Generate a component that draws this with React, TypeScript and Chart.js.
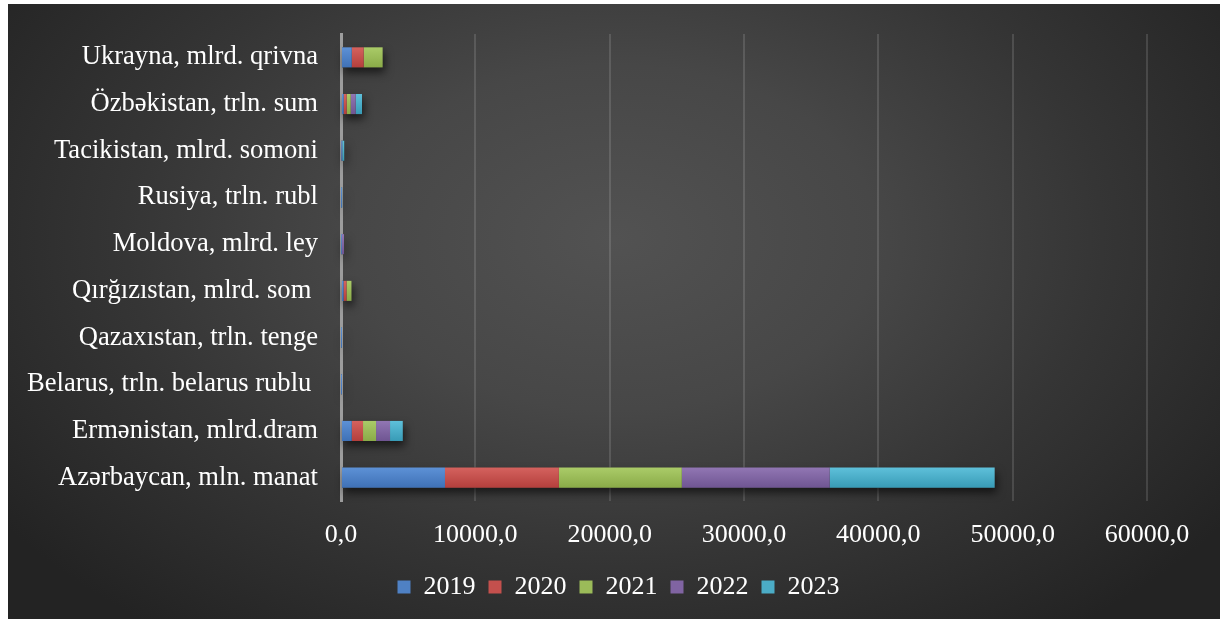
import React, { useEffect, useRef } from "react";
import { Chart, registerables } from "chart.js";

Chart.register(...registerables);

if (typeof document !== "undefined") {
  document.documentElement.style.overflow = "hidden";
}

const categories = [
  "Azərbaycan, mln. manat",
  "Ermənistan, mlrd.dram",
  "Belarus, trln. belarus rublu ",
  "Qazaxıstan, trln. tenge",
  "Qırğızıstan, mlrd. som ",
  "Moldova, mlrd. ley",
  "Rusiya, trln. rubl",
  "Tacikistan, mlrd. somoni",
  "Özbəkistan, trln. sum",
  "Ukrayna, mlrd. qrivna",
];

const years = ["2019", "2020", "2021", "2022", "2023"];

const v2019 = [7740, 800, 0.04, 3, 190, 10, 5, 15, 200, 800];
const v2020 = [8480, 840, 0.04, 3, 220, 20, 5, 30, 223, 890];
const v2021 = [9150, 970, 0.05, 4, 370, 15, 6, 20, 298, 1410];
const v2022 = [11010, 1040, 0.06, 5, 0, 180, 7, 25, 372, 0];
const v2023 = [12280, 950, 0.07, 50, 0, 0, 60, 150, 469, 0];

const seriesValues = [v2019, v2020, v2021, v2022, v2023];

const xTickLabels = ["0,0", "10000,0", "20000,0", "30000,0", "40000,0", "50000,0", "60000,0"];

const solidColors = ["#4f81c4", "#c4504d", "#9bbb59", "#8064a2", "#4bacc6"];
const topColors = ["#5d91d6", "#d4625e", "#aacb68", "#9176b3", "#5ec0da"];
const bottomColors = ["#3f71b6", "#b43f3c", "#8aab48", "#6f5592", "#389bb6"];

const FONT = "'Liberation Serif', 'Times New Roman', serif";

const shadowPlugin = {
  id: "stackShadow",
  beforeDatasetsDraw(chart: any) {
    const ctx = chart.ctx;
    const metas = chart.getSortedVisibleDatasetMetas();
    ctx.save();
    ctx.shadowColor = "rgba(0,0,0,0.6)";
    ctx.shadowBlur = 9;
    ctx.shadowOffsetX = 2;
    ctx.shadowOffsetY = 5;
    ctx.fillStyle = "#333";
    for (let i = 0; i < categories.length; i++) {
      let left = Infinity;
      let right = -Infinity;
      let y = 0;
      let h = 0;
      for (const m of metas) {
        const el: any = m.data[i];
        if (!el) continue;
        const a = Math.min(el.x, el.base);
        const b = Math.max(el.x, el.base);
        if (b - a < 0.01) continue;
        left = Math.min(left, a);
        right = Math.max(right, b);
        y = el.y;
        h = el.height;
      }
      if (right - left > 0.5) {
        ctx.fillRect(left, y - h / 2, right - left, h);
      }
    }
    ctx.restore();
  },
};

const legendShiftPlugin = {
  id: "legendShift",
  afterLayout(chart: any) {
    if (chart.legend) {
      chart.legend.left += 41;
      chart.legend.right += 41;
    }
  },
};

export default function App() {
  const canvasRef = useRef<HTMLCanvasElement | null>(null);

  useEffect(() => {
    if (!canvasRef.current) return;
    const datasets = years.map((yr, k) => ({
      label: yr,
      data: seriesValues[k],
      borderWidth: 0,
      backgroundColor: (c: any) => {
        const chart = c.chart;
        const ys = chart.scales && chart.scales.y;
        if (c.type !== "data" || !ys || !chart.ctx) return solidColors[k];
        const py = ys.getPixelForValue(c.dataIndex);
        const g = chart.ctx.createLinearGradient(0, py - 10, 0, py + 10);
        g.addColorStop(0, topColors[k]);
        g.addColorStop(1, bottomColors[k]);
        return g;
      },
      categoryPercentage: 1,
      barPercentage: 0.43,
    }));

    const chart = new Chart(canvasRef.current, {
      type: "bar",
      data: { labels: categories, datasets },
      plugins: [shadowPlugin, legendShiftPlugin],
      options: {
        responsive: false,
        animation: false,
        events: [],
        indexAxis: "y",
        layout: { padding: { left: 0, right: 73, top: 30, bottom: 9 } },
        scales: {
          x: {
            stacked: true,
            min: 0,
            max: 60000,
            ticks: {
              stepSize: 10000,
              padding: 19,
              color: "#ffffff",
              font: { family: FONT, size: 26 },
              callback: (_v: any, i: number) => xTickLabels[i],
            },
            grid: {
              color: "rgba(255,255,255,0.13)",
              lineWidth: 2,
              drawTicks: false,
            },
            border: { display: false },
            afterFit: (s: any) => {
              s.height = 60;
            },
          },
          y: {
            stacked: true,
            reverse: true,
            ticks: {
              padding: 23,
              color: "#ffffff",
              font: { family: FONT, size: 26.6 },
              autoSkip: false,
            },
            grid: { display: false, drawTicks: false },
            border: { display: true, color: "#9d9d9d", width: 3 },
            afterFit: (s: any) => {
              s.width = 333;
              s.paddingTop = 0;
              s.paddingBottom = 0;
            },
          },
        },
        plugins: {
          legend: {
            position: "bottom",
            labels: {
              boxWidth: 13,
              boxHeight: 13,
              padding: 13,
              color: "#ffffff",
              font: { family: FONT, size: 26 },
              generateLabels: (ch: any) =>
                ch.data.datasets.map((d: any, k: number) => ({
                  text: d.label,
                  fillStyle: solidColors[k],
                  strokeStyle: "rgba(0,0,0,0)",
                  lineWidth: 0,
                  hidden: false,
                  datasetIndex: k,
                  fontColor: "#ffffff",
                })),
            },
          },
          tooltip: { enabled: false },
        },
      },
    } as any);
    return () => chart.destroy();
  }, []);

  return (
    <div
      style={{
        position: "fixed",
        left: 8,
        top: 4,
        width: 1212,
        height: 615,
        background:
          "radial-gradient(ellipse 62% 80% at 50% 38%, #525252 0%, #474747 35%, #353535 65%, #232323 100%)",
      }}
    >
      <canvas ref={canvasRef} width={1212} height={615} style={{ display: "block" }} />
    </div>
  );
}
